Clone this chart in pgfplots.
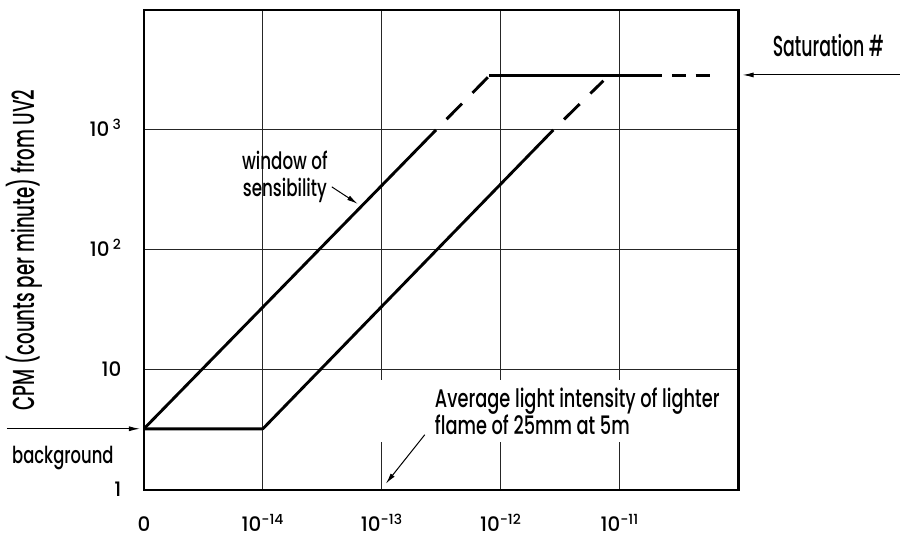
\documentclass[border=0pt]{standalone}
\usepackage{pgfplots}
\pgfplotsset{compat=1.18}
\usetikzlibrary{arrows.meta}
\usepackage{fontspec}
\setmainfont{Poppins Medium}[FakeStretch=0.7]
\newfontfamily\condfont{Poppins Medium}[FakeStretch=0.6]
\newfontfamily\tickfont{Poppins Medium}[FakeStretch=1.0]
\begin{document}
\begin{tikzpicture}
\begin{scope}[x=1bp,y=-1bp,shift={(-144bp,490bp)}]
\path[use as bounding box] (0,0) rectangle (900,538);
\end{scope}
\begin{axis}[
  at={(0,0)}, anchor=south west, scale only axis,
  width=595bp, height=480bp,
  xmode=log, ymode=log,
  xmin=1e-15, xmax=1e-10, ymin=1, ymax=1e4,
  xtick={1e-15,1e-14,1e-13,1e-12,1e-11},
  xticklabels={0,{10\textsuperscript{−14}},{10\textsuperscript{−13}},{10\textsuperscript{−12}},{10\textsuperscript{−11}}},
  ytick={1,10,100,1000},
  yticklabels={1,10,{10\,\textsuperscript{2}},{10\,\textsuperscript{3}}},
  xminorticks=false, yminorticks=false,
  major tick length=0pt,
  xmajorgrids, ymajorgrids,
  major grid style={black!85, line width=1bp},
  axis line style={black, line width=2.2bp},
  tick label style={font=\tickfont\fontsize{20}{20}\selectfont},
  xticklabel style={anchor=base, inner sep=1bp, yshift=-42bp},
  yticklabel style={anchor=base east, yshift=-7bp, xshift=-19bp},
]
\addplot[black, line width=2.9bp, line join=round] coordinates {(1e-15,3.22) (2.86e-13,1000)};
\addplot[black, line width=2.9bp, dash pattern=on 22bp off 15bp, dash phase=22bp] coordinates {(2.86e-13,1000) (8.0e-13,2820)};
\addplot[black, line width=2.9bp] coordinates {(8.0e-13,2820) (2.26e-11,2820)};
\addplot[black, line width=2.9bp, dash pattern=on 14bp off 10bp, dash phase=14bp] coordinates {(2.26e-11,2820) (5.75e-11,2820)};
\addplot[black, line width=2.9bp, line join=round] coordinates {(1e-15,3.22) (1e-14,3.22) (2.77e-12,1000)};
\addplot[black, line width=2.9bp, dash pattern=on 22bp off 15bp, dash phase=22bp] coordinates {(2.77e-12,1000) (7.3e-12,2570)};
\end{axis}
\begin{scope}[x=1bp,y=-1bp,shift={(-144bp,490bp)}]
\fill[white] (375,380) rectangle (722,442);
\node[anchor=base west, inner sep=0, font=\fontsize{25.5}{27}\selectfont] at (435,408) {Average light intensity of lighter};
\node[anchor=base west, inner sep=0, font=\fontsize{25.5}{27}\selectfont] at (435,435) {flame of 25mm at 5m};
\draw[line width=1bp, -{Latex[length=11bp,width=5bp]}] (425,435) -- (386,484);
\node[anchor=base, inner sep=0, font=\fontsize{24}{24}\selectfont] at (285,170) {window of};
\node[anchor=base, inner sep=0, font=\fontsize{24}{24}\selectfont] at (285,197) {sensibility};
\draw[line width=1bp, -{Latex[length=11bp,width=5bp]}] (332,187) -- (358,204);
\node[anchor=base west, inner sep=0, font=\condfont\fontsize{29}{34}\selectfont] at (773,57) {Saturation \#};
\draw[line width=1bp, -{Latex[length=11bp,width=5bp]}] (900,75) -- (743,75);
\node[anchor=base west, inner sep=0, font=\fontsize{23.5}{24}\selectfont] at (12,464) {background};
\draw[line width=1bp, -{Latex[length=11bp,width=5bp]}] (7,429) -- (140,429);
\node[rotate=90, inner sep=0, font=\condfont\fontsize{30.5}{32}\selectfont] at (24,250) {CPM (counts per minute) from UV2};
\end{scope}
\end{tikzpicture}
\end{document}
